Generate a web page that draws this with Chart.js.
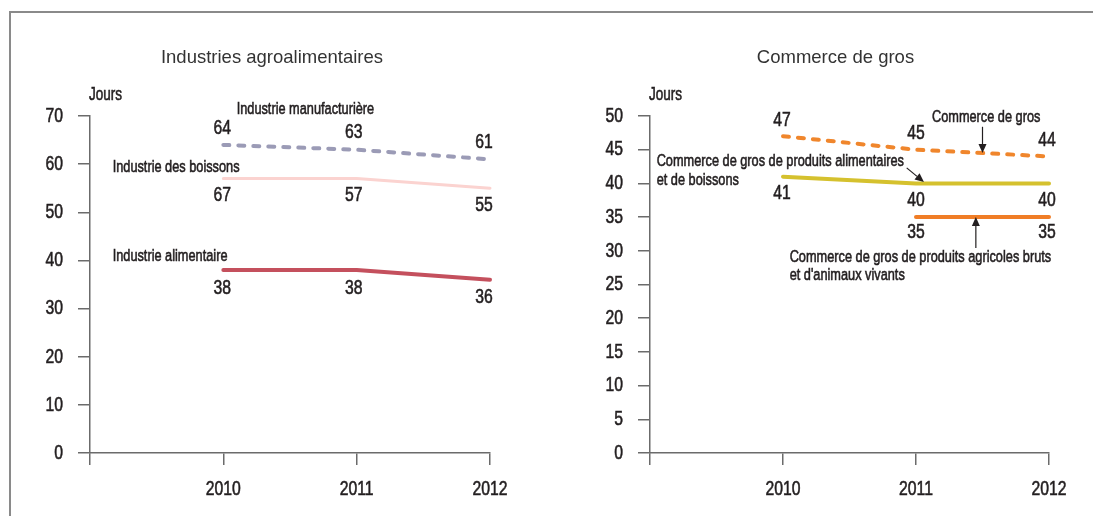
<!DOCTYPE html>
<html>
<head>
<meta charset="utf-8">
<script src="https://cdn.jsdelivr.net/npm/chart.js@4.4.1/dist/chart.umd.min.js"></script>
<style>
  body { margin: 0; background: #fff; }
  #page { position: relative; width: 1093px; height: 516px; overflow: hidden; }
  #frame { position: absolute; left: 9px; top: 11px; width: 1100px; height: 520px; border: 2px solid #8a8a8a; box-sizing: border-box; }
  canvas { position: absolute; top: 0; }
</style>
</head>
<body>
<div id="page">
  <div id="frame"></div>
  <canvas id="agro" width="545" height="516" style="left:0"></canvas>
  <canvas id="gros" width="548" height="516" style="left:545px"></canvas>
</div>
<script>
const years = [2010, 2011, 2012];

// Industries agroalimentaires
const manufacturiere = [64, 63, 61];
const boissons = [57, 57, 55];
const boissonsText = ['67', '57', '55'];
const alimentaire = [38, 38, 36];

// Commerce de gros
const commerceGros = [47, 45, 44];
const grosAlimentaires = [41, 40, 40];
const grosAgricoles = [null, 35, 35];

const FONT = "'Liberation Sans', Arial, sans-serif";
const SQUEEZE = 0.75;   // condensed look for all the small text
const INK = '#231f20';
const AXIS = '#6b6b6b';

const pts = (vals) => years.map((y, i) => ({ x: y, y: vals[i] }));

function line(vals, color, width, dash, dy, text) {
  return {
    data: pts(vals),
    borderColor: color,
    borderWidth: width,
    borderDash: dash || [],
    borderCapStyle: 'round',
    borderJoinStyle: 'round',
    pointRadius: 0,
    tension: 0,
    spanGaps: false,
    clip: 6,
    labelDy: dy,
    valueText: text
  };
}

// narrow text: squeeze horizontally, thin stroke to thicken it a little
function narrowText(ctx, txt, x, y, size, align) {
  ctx.save();
  ctx.translate(x, y);
  ctx.scale(SQUEEZE, 1);
  ctx.font = size + 'px ' + FONT;
  ctx.textAlign = align;
  ctx.textBaseline = 'middle';
  ctx.fillStyle = INK;
  ctx.strokeStyle = INK;
  ctx.lineWidth = 0.6;
  ctx.fillText(txt, 0, 0);
  ctx.strokeText(txt, 0, 0);
  ctx.restore();
}

// tick labels of both axes, placed from the scales' own ticks
const tickText = {
  id: 'tickText',
  afterDraw(chart) {
    const ctx = chart.ctx;
    const xs = chart.scales.x, ys = chart.scales.y;
    ys.ticks.forEach(t => {
      narrowText(ctx, String(t.value), xs.left - 12 - 15, ys.getPixelForValue(t.value), 21, 'right');
    });
    xs.ticks.forEach(t => {
      if (t.value === 2009) return;
      narrowText(ctx, String(t.value), xs.getPixelForValue(t.value), ys.bottom + 36, 21, 'center');
    });
  }
};

// numbers printed next to each point
function valueLabels(dxs) {
  return {
    id: 'valueLabels',
    afterDatasetsDraw(chart) {
      const ctx = chart.ctx;
      chart.data.datasets.forEach((ds, di) => {
        const meta = chart.getDatasetMeta(di);
        ds.data.forEach((p, i) => {
          if (p.y === null) return;
          const el = meta.data[i];
          const txt = ds.valueText ? ds.valueText[i] : String(p.y);
          narrowText(ctx, txt, el.x + dxs[i], el.y + ds.labelDy, 21, 'center');
        });
      });
    }
  };
}

function notes(cfg) {
  return {
    id: 'notes',
    afterDraw(chart) {
      const ctx = chart.ctx;
      const xs = chart.scales.x, ys = chart.scales.y;
      const area = chart.chartArea;
      ctx.save();
      ctx.fillStyle = '#333';
      ctx.font = '18.5px ' + FONT;
      ctx.textAlign = 'center';
      ctx.textBaseline = 'middle';
      ctx.fillText(cfg.title, (area.left + area.right) / 2 + cfg.titleDx, area.top - 58);
      ctx.restore();

      narrowText(ctx, 'Jours', area.left - 1, area.top - 21, 18, 'left');

      cfg.texts.forEach(t => {
        narrowText(ctx, t.text, xs.getPixelForValue(t.x), ys.getPixelForValue(t.y), 17, 'left');
      });

      ctx.save();
      ctx.strokeStyle = INK;
      ctx.fillStyle = INK;
      ctx.lineWidth = 1.2;
      (cfg.arrows || []).forEach(a => {
        const x1 = xs.getPixelForValue(a.x1), y1 = ys.getPixelForValue(a.y1);
        const x2 = xs.getPixelForValue(a.x2), y2 = ys.getPixelForValue(a.y2);
        const ang = Math.atan2(y2 - y1, x2 - x1);
        const len = 9, half = 4;
        const bx = x2 - len * Math.cos(ang), by = y2 - len * Math.sin(ang);
        ctx.beginPath();
        ctx.moveTo(x1, y1);
        ctx.lineTo(bx, by);
        ctx.stroke();
        ctx.beginPath();
        ctx.moveTo(x2, y2);
        ctx.lineTo(bx + half * Math.sin(ang), by - half * Math.cos(ang));
        ctx.lineTo(bx - half * Math.sin(ang), by + half * Math.cos(ang));
        ctx.closePath();
        ctx.fill();
      });
      ctx.restore();
    }
  };
}

function scales(yMax, yStep, yWidth) {
  return {
    x: {
      type: 'linear', min: 2009, max: 2012,
      afterFit: s => { s.height = 63; },
      ticks: { stepSize: 1, display: false },
      grid: { drawOnChartArea: false, drawTicks: true, tickLength: 12, color: AXIS, lineWidth: 1.5 },
      border: { color: AXIS, width: 1.5 }
    },
    y: {
      min: 0, max: yMax,
      afterFit: s => { s.width = yWidth; },
      ticks: { stepSize: yStep, display: false },
      grid: { drawOnChartArea: false, drawTicks: true, tickLength: 12, color: AXIS, lineWidth: 1.5 },
      border: { color: AXIS, width: 1.5 }
    }
  };
}

const common = {
  responsive: false,
  animation: false,
  plugins: { legend: { display: false }, tooltip: { enabled: false } }
};

new Chart(document.getElementById('agro'), {
  type: 'line',
  data: {
    datasets: [
      line(manufacturiere, '#9b9bb6', 4, [6, 9], -17),
      line(boissons, '#fbd3d0', 3, null, 17, boissonsText),
      line(alimentaire, '#c4505d', 4, null, 18)
    ]
  },
  options: Object.assign({}, common, {
    layout: { padding: { top: 116, right: 55, bottom: 0, left: 0 } },
    scales: scales(70, 10, 90)
  }),
  plugins: [tickText, valueLabels([-1, -3, -6]), notes({
    title: 'Industries agroalimentaires',
    titleDx: -18,
    texts: [
      { text: 'Industrie manufacturière', x: 2010.1, y: 71.3 },
      { text: 'Industrie des boissons', x: 2009.17, y: 59.4 },
      { text: 'Industrie alimentaire', x: 2009.17, y: 40.9 }
    ]
  })]
});

new Chart(document.getElementById('gros'), {
  type: 'line',
  data: {
    datasets: [
      line(commerceGros, '#f0862c', 4, [6, 9], -16),
      line(grosAlimentaires, '#d5c12e', 4, null, 17),
      line(grosAgricoles, '#f07d26', 4, null, 15)
    ]
  },
  options: Object.assign({}, common, {
    layout: { padding: { top: 116, right: 44, bottom: 0, left: 0 } },
    scales: scales(50, 5, 105)
  }),
  plugins: [tickText, valueLabels([-1, 0, -2]), notes({
    title: 'Commerce de gros',
    titleDx: -14,
    texts: [
      { text: 'Commerce de gros', x: 2011.12, y: 49.85 },
      { text: 'Commerce de gros de produits alimentaires', x: 2009.05, y: 43.3 },
      { text: 'et de boissons', x: 2009.05, y: 40.5 },
      { text: 'Commerce de gros de produits agricoles bruts', x: 2010.05, y: 29.1 },
      { text: "et d'animaux vivants", x: 2010.05, y: 26.4 }
    ],
    arrows: [
      { x1: 2011.5, y1: 48.4, x2: 2011.5, y2: 44.5 },
      { x1: 2010.93, y1: 42.3, x2: 2011.06, y2: 40.2 },
      { x1: 2011.45, y1: 30.4, x2: 2011.45, y2: 35.0 }
    ]
  })]
});
</script>
</body>
</html>
